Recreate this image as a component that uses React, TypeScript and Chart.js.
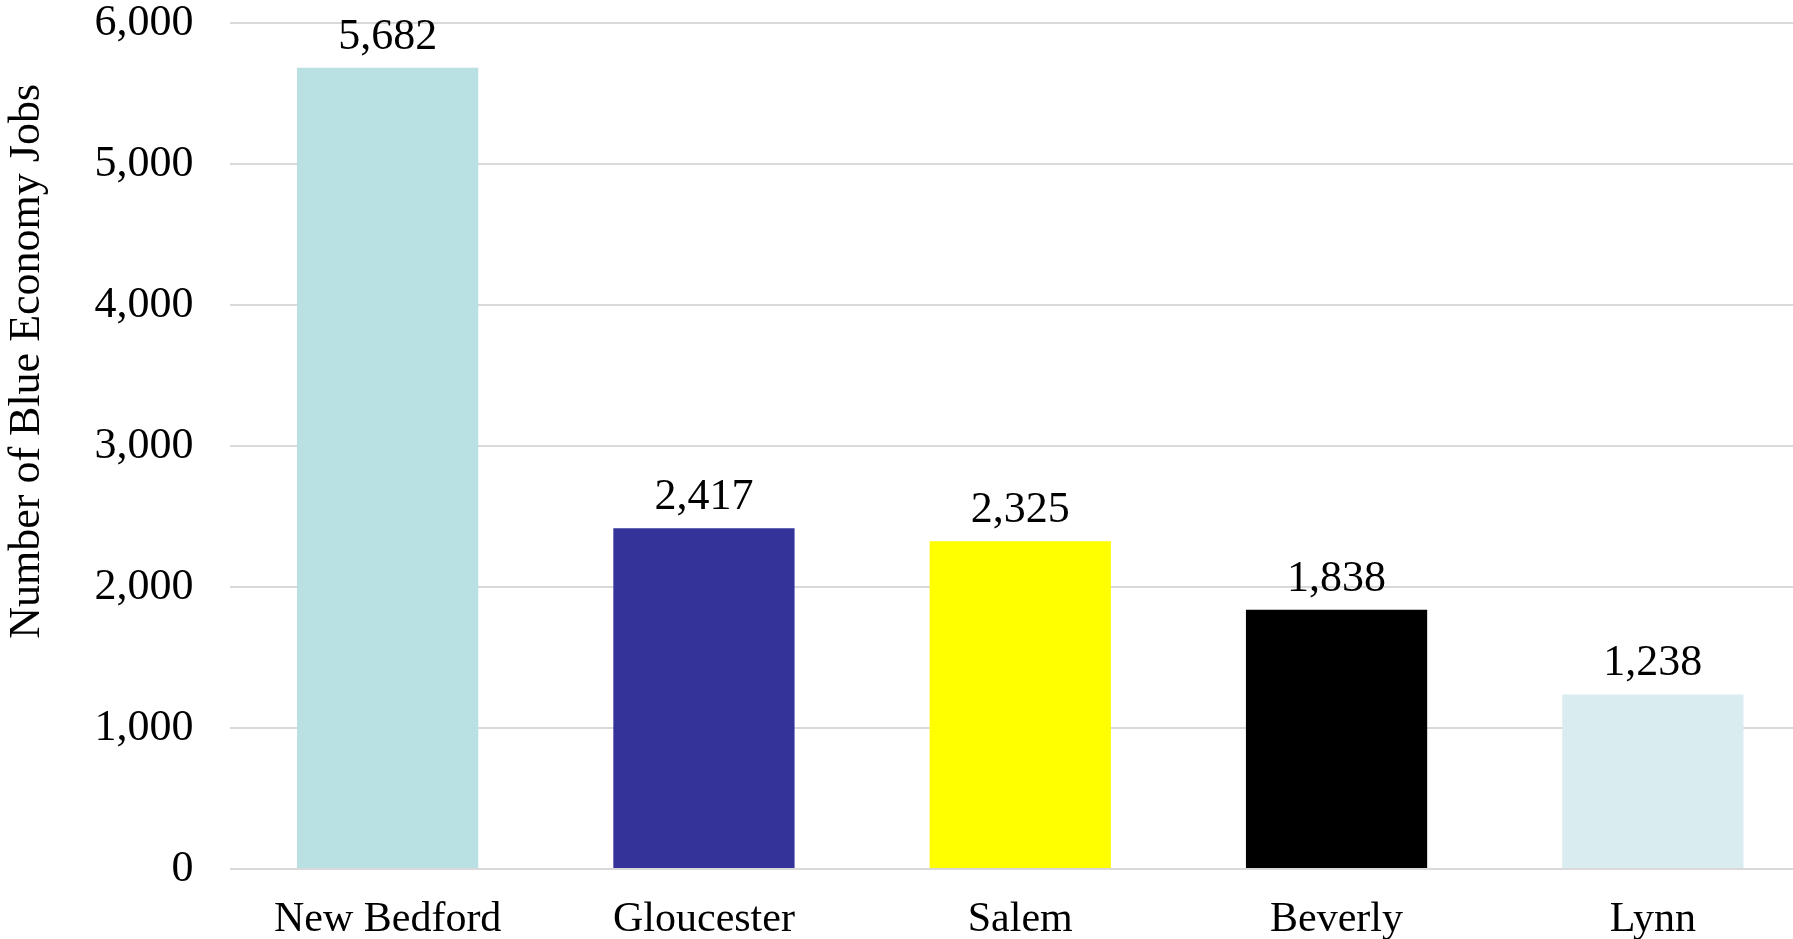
import React, { useEffect, useRef } from "react";
import { Chart, registerables } from "chart.js";

Chart.register(...registerables);

const categories = ["New Bedford", "Gloucester", "Salem", "Beverly", "Lynn"];
const jobs = [5682, 2417, 2325, 1838, 1238];
const barColors = ["#B9E0E3", "#343399", "#FFFF00", "#000000", "#D9ECEF"];
const yTickValues = [0, 1000, 2000, 3000, 4000, 5000, 6000];
const yTitle = "Number of Blue Economy Jobs";

const FONT = "'Liberation Serif', 'DejaVu Serif', serif";

const valueLabels = {
  id: "valueLabels",
  afterDatasetsDraw(chart: any) {
    const ctx = chart.ctx;
    const meta = chart.getDatasetMeta(0);
    ctx.save();
    ctx.font = `44px ${FONT}`;
    ctx.fillStyle = "#000";
    ctx.textAlign = "center";
    ctx.textBaseline = "alphabetic";
    meta.data.forEach((bar: any, i: number) => {
      const v = chart.data.datasets[0].data[i] as number;
      ctx.fillText(v.toLocaleString("en-US"), bar.x, bar.y - 19);
    });
    ctx.restore();
  },
};

const yAxisTitle = {
  id: "yAxisTitle",
  afterDraw(chart: any) {
    const ctx = chart.ctx;
    const area = chart.chartArea;
    ctx.save();
    ctx.font = `44px ${FONT}`;
    ctx.fillStyle = "#000";
    ctx.textAlign = "center";
    ctx.textBaseline = "middle";
    ctx.translate(27, area.top + area.height * 0.4);
    ctx.rotate(-Math.PI / 2);
    ctx.fillText(yTitle, 0, 0);
    ctx.restore();
  },
};

export default function App() {
  const ref = useRef<HTMLCanvasElement>(null);

  useEffect(() => {
    if (!ref.current) return;
    const chart = new Chart(ref.current, {
      type: "bar",
      data: {
        labels: categories,
        datasets: [
          {
            data: jobs,
            backgroundColor: barColors,
            borderWidth: 0,
            barPercentage: 0.573,
            categoryPercentage: 1,
          },
        ],
      },
      options: {
        animation: false,
        responsive: false,
        devicePixelRatio: 1,
        layout: { padding: { top: 0, left: 0, right: 0, bottom: 0 } },
        plugins: {
          legend: { display: false },
          tooltip: { enabled: false },
          title: { display: false },
        },
        scales: {
          x: {
            grid: { display: false, drawTicks: false },
            border: { display: false },
            ticks: {
              color: "#000",
              font: { family: FONT, size: 42, lineHeight: 1.2 },
              padding: 26,
              maxRotation: 0,
              autoSkip: false,
            },
            afterFit(scale: any) {
              scale.height = 70;
              scale.paddingLeft = 0;
              scale.paddingRight = 0;
            },
          },
          y: {
            min: 0,
            max: 6000,
            afterBuildTicks(scale: any) {
              scale.ticks = yTickValues.map((v) => ({ value: v }));
            },
            grid: { color: "#D9D9D9", lineWidth: 2, drawTicks: false },
            border: { display: false },
            ticks: {
              color: "#000",
              font: { family: FONT, size: 44, lineHeight: 1.1 },
              padding: 36,
              callback: (v: any) => Number(v).toLocaleString("en-US"),
            },
            afterFit(scale: any) {
              scale.width = 229.5;
              scale.paddingTop = 23;
              scale.paddingBottom = 0;
            },
          },
        },
      },
      plugins: [valueLabels, yAxisTitle],
    });
    return () => chart.destroy();
  }, []);

  return (
    <div
      style={{
        position: "fixed",
        left: 0,
        top: 0,
        width: 1793,
        height: 939,
        overflow: "hidden",
        background: "#fff",
      }}
    >
      <canvas ref={ref} width={1811} height={939} style={{ display: "block" }} />
    </div>
  );
}
